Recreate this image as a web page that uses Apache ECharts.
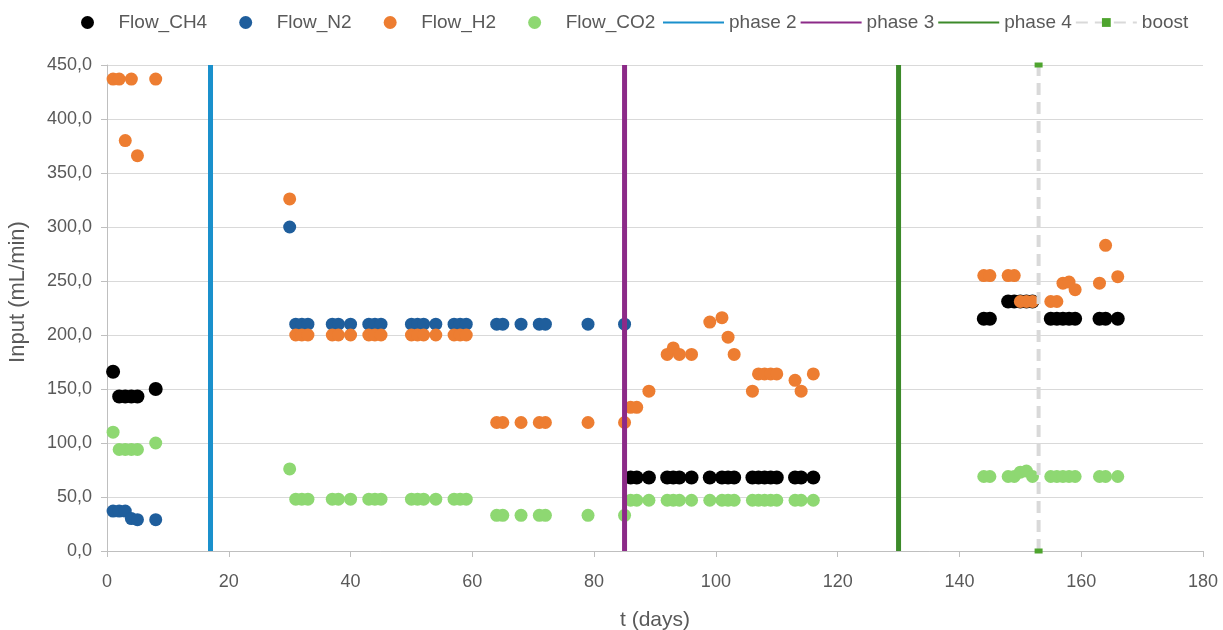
<!DOCTYPE html>
<html>
<head>
<meta charset="utf-8">
<script src="https://cdn.jsdelivr.net/npm/echarts@6/dist/echarts.min.js"></script>
<style>
  html, body { margin: 0; padding: 0; background: #fff; }
  #chart { width: 1223px; height: 630px; }
</style>
</head>
<body>
<div id="chart"></div>
<script>
// t (days) and flow values
const ch4Days = [1, 2, 3, 4, 5, 8,
  86, 87, 89, 92, 93, 94, 96, 99, 101, 102, 103, 106, 107, 108, 109, 110, 113, 114, 116,
  144, 145, 148, 149, 150, 151, 152, 155, 156, 157, 158, 159, 163, 164, 166];
const ch4Vals = [166, 143, 143, 143, 143, 150,
  68, 68, 68, 68, 68, 68, 68, 68, 68, 68, 68, 68, 68, 68, 68, 68, 68, 68, 68,
  215, 215, 231, 231, 231, 231, 231, 215, 215, 215, 215, 215, 215, 215, 215];

const n2Days = [1, 2, 3, 4, 5, 8, 30,
  31, 32, 33, 37, 38, 40, 43, 44, 45, 50, 51, 52, 54, 57, 58, 59,
  64, 65, 68, 71, 72, 79, 85];
const n2Vals = [37, 37, 37, 30, 29, 29, 300,
  210, 210, 210, 210, 210, 210, 210, 210, 210, 210, 210, 210, 210, 210, 210, 210,
  210, 210, 210, 210, 210, 210, 210];

const h2Days = [1, 2, 3, 4, 5, 8, 30,
  31, 32, 33, 37, 38, 40, 43, 44, 45, 50, 51, 52, 54, 57, 58, 59,
  64, 65, 68, 71, 72, 79, 85,
  86, 87, 89, 92, 93, 94, 96, 99, 101, 102, 103, 106, 107, 108, 109, 110, 113, 114, 116,
  144, 145, 148, 149, 150, 151, 152, 155, 156, 157, 158, 159, 163, 164, 166];
const h2Vals = [437, 437, 380, 437, 366, 437, 326,
  200, 200, 200, 200, 200, 200, 200, 200, 200, 200, 200, 200, 200, 200, 200, 200,
  119, 119, 119, 119, 119, 119, 119,
  133, 133, 148, 182, 188, 182, 182, 212, 216, 198, 182, 148, 164, 164, 164, 164, 158, 148, 164,
  255, 255, 255, 255, 231, 231, 231, 231, 231, 248, 249, 242, 248, 283, 254];

const co2Days = [1, 2, 3, 4, 5, 8, 30,
  31, 32, 33, 37, 38, 40, 43, 44, 45, 50, 51, 52, 54, 57, 58, 59,
  64, 65, 68, 71, 72, 79, 85,
  86, 87, 89, 92, 93, 94, 96, 99, 101, 102, 103, 106, 107, 108, 109, 110, 113, 114, 116,
  144, 145, 148, 149, 150, 151, 152, 155, 156, 157, 158, 159, 163, 164, 166];
const co2Vals = [110, 94, 94, 94, 94, 100, 76,
  48, 48, 48, 48, 48, 48, 48, 48, 48, 48, 48, 48, 48, 48, 48, 48,
  33, 33, 33, 33, 33, 33, 33,
  47, 47, 47, 47, 47, 47, 47, 47, 47, 47, 47, 47, 47, 47, 47, 47, 47, 47, 47,
  69, 69, 69, 69, 73, 74, 69, 69, 69, 69, 69, 69, 69, 69, 69];

// phase markers (day)
const phase2Day = 17;
const phase3Day = 85;
const phase4Day = 130;
const boostDay = 153;

const yMin = 0;
const yMax = 450;

const textColor = '#595959';
const fontFamily = '"Liberation Sans", Arial, sans-serif';

function pairs(days, vals) {
  return days.map((d, i) => [d, vals[i]]);
}

function scatter(name, days, vals, color, size) {
  return {
    name: name,
    type: 'scatter',
    symbol: 'circle',
    symbolSize: size,
    itemStyle: { color: color, opacity: 1 },
    data: pairs(days, vals),
    z: 2
  };
}

function vline(name, day, color, extra) {
  return Object.assign({
    name: name,
    type: 'line',
    showSymbol: false,
    symbol: 'none',
    lineStyle: { color: color, width: 5 },
    itemStyle: { color: color },
    data: [[day, yMin], [day, yMax]],
    z: 3
  }, extra || {});
}

const chart = echarts.init(document.getElementById('chart'));

const option = {
  animation: false,
  backgroundColor: '#fff',
  textStyle: { fontFamily: fontFamily },
  legend: [
    {
      data: ['Flow_CH4', 'Flow_N2', 'Flow_H2', 'Flow_CO2'],
      left: 81,
      top: 13,
      padding: 0,
      icon: 'circle',
      itemWidth: 52,
      itemHeight: 13,
      itemGap: 32,
      textStyle: { color: textColor, fontSize: 19, fontFamily: fontFamily }
    },
    {
      data: [
        { name: 'phase 2', itemStyle: { opacity: 0 } },
        { name: 'phase 3', itemStyle: { opacity: 0 } },
        { name: 'phase 4', itemStyle: { opacity: 0 } },
        'boost'
      ],
      left: 662,
      top: 13,
      padding: 0,
      itemWidth: 61,
      itemHeight: 11,
      itemGap: 3,
      textStyle: { color: textColor, fontSize: 19, fontFamily: fontFamily }
    }
  ],
  grid: { left: 107, right: 20, top: 65, bottom: 79, outerBoundsMode: 'none' },
  xAxis: {
    type: 'value',
    min: 0,
    max: 180,
    interval: 20,
    name: 't (days)',
    nameLocation: 'middle',
    nameGap: 59,
    nameTextStyle: { color: textColor, fontSize: 21 },
    axisLine: { onZero: false, lineStyle: { color: '#bfbfbf', width: 1 } },
    axisTick: { show: true, length: 6, lineStyle: { color: '#bfbfbf' } },
    axisLabel: { color: textColor, fontSize: 18, margin: 22 },
    splitLine: { show: false }
  },
  yAxis: {
    type: 'value',
    min: yMin,
    max: yMax,
    interval: 50,
    name: 'Input (mL/min)',
    nameLocation: 'middle',
    nameGap: 78,
    nameTextStyle: { color: textColor, fontSize: 22, padding: [0, 0, 0, 32] },
    axisLine: { show: true, lineStyle: { color: '#bfbfbf', width: 1 } },
    axisTick: { show: true, length: 6, lineStyle: { color: '#bfbfbf' } },
    axisLabel: {
      color: textColor,
      fontSize: 18,
      margin: 15,
      formatter: v => v.toFixed(1).replace('.', ',')
    },
    splitLine: { lineStyle: { color: '#d9d9d9', width: 1 } }
  },
  series: [
    scatter('Flow_CH4', ch4Days, ch4Vals, '#000000', 14),
    scatter('Flow_N2', n2Days, n2Vals, '#1f5e9c', 13),
    scatter('Flow_H2', h2Days, h2Vals, '#ed7d31', 13),
    scatter('Flow_CO2', co2Days, co2Vals, '#8ed872', 13),
    vline('phase 2', phase2Day, '#1a90cc'),
    vline('phase 3', phase3Day, '#8c2a88'),
    vline('phase 4', phase4Day, '#3c8a2a'),
    vline('boost', boostDay, '#d9d9d9', {
      showSymbol: true,
      symbol: 'rect',
      symbolSize: [8, 5],
      itemStyle: { color: '#4ea42e' },
      lineStyle: { color: '#d9d9d9', width: 4, type: [12, 7] }
    })
  ]
};

chart.setOption(option);
</script>
</body>
</html>
